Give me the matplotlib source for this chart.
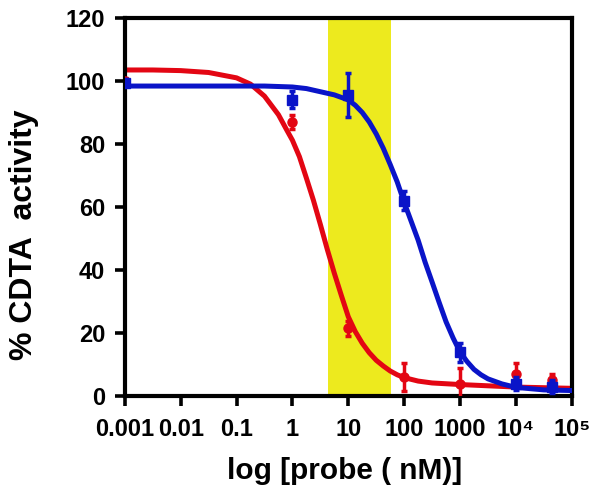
import matplotlib
matplotlib.use("Agg")
import matplotlib.pyplot as plt
import numpy as np

plt.rcParams["font.family"] = ["Liberation Sans", "DejaVu Sans"]
plt.rcParams["font.weight"] = "bold"

# measured points (concentration in nM, % activity, error)
conc = [0.001, 1, 10, 100, 1000, 10000, 45000]
red_y = [100, 87, 21.5, 6, 4, 7, 5]
red_err = [1, 2.2, 2.5, 4.5, 5, 3.5, 2]
blue_y = [99.5, 94, 95.5, 62, 14, 4, 3]
blue_err = [1, 2.7, 7, 3, 3, 2, 2]

# fitted curves (log10 concentration, % activity)
red_logx = [-3, -2.5, -2, -1.5, -1, -0.75, -0.5, -0.25, -0.1, 0, 0.125, 0.25,
            0.375, 0.5, 0.625, 0.75, 0.875, 1.0, 1.125, 1.25, 1.375, 1.5,
            1.625, 1.75, 1.875, 2.0, 2.25, 2.5, 3, 3.5, 4, 4.5, 5]
red_curve = [103.5, 103.5, 103.3, 102.7, 101.0, 99.0, 95.2, 89.3, 84.4, 81.2,
             76.0, 69.2, 62.2, 54.5, 46.5, 39.0, 32.0, 25.2, 20.5, 16.8, 13.8,
             11.4, 9.6, 8.0, 6.8, 5.9, 4.8, 4.2, 3.7, 3.3, 2.9, 2.7, 2.5]
blue_logx = [-3, -2, -1, -0.5, 0, 0.25, 0.5, 0.75, 1.0, 1.125, 1.25, 1.375,
             1.5, 1.625, 1.75, 1.875, 2.0, 2.125, 2.25, 2.375, 2.5, 2.625,
             2.75, 2.875, 3.0, 3.125, 3.25, 3.375, 3.5, 3.75, 4.0, 4.5, 5]
blue_curve = [98.4, 98.4, 98.4, 98.4, 98.1, 97.6, 96.6, 95.6, 94.0, 92.3,
              90.0, 87.0, 83.2, 78.7, 73.5, 68.0, 61.5, 55.5, 49.5, 42.5,
              36.2, 29.8, 23.6, 18.5, 14.0, 11.0, 8.5, 6.8, 5.5, 3.9, 2.8,
              2.0, 1.8]

highlight = (4.3, 57)

xticks = [1e-3, 1e-2, 1e-1, 1, 10, 100, 1000, 1e4, 1e5]
xticklabels = ["0.001", "0.01", "0.1", "1", "10", "100", "1000",
               "10\u2074", "10\u2075"]
yticks = [0, 20, 40, 60, 80, 100, 120]

red = "#E30613"
blue = "#0A14C8"

fig = plt.figure(figsize=(6.0, 4.99), dpi=100)
ax = fig.add_axes([0.208, 0.206, 0.745, 0.758])

ax.axvspan(*highlight, color="#EDEA1E", zorder=0, lw=0)

ax.plot(10.0 ** np.asarray(red_logx), red_curve, color=red, lw=3.6,
        solid_joinstyle="round", zorder=2)
ax.plot(10.0 ** np.asarray(blue_logx), blue_curve, color=blue, lw=3.6,
        solid_joinstyle="round", zorder=3)

ax.errorbar(conc, red_y, yerr=red_err, fmt="o", color=red, ms=6.5,
            elinewidth=2.5, capsize=2.5, capthick=2.5, zorder=4)
ax.errorbar(conc, blue_y, yerr=blue_err, fmt="s", color=blue, ms=7.5,
            elinewidth=2.5, capsize=2.5, capthick=2.5, zorder=5)

ax.set_xscale("log")
ax.set_xlim(1e-3, 1e5)
ax.set_ylim(0, 120)
ax.set_xticks(xticks)
ax.set_xticklabels(xticklabels)
ax.set_yticks(yticks)
ax.xaxis.set_minor_locator(matplotlib.ticker.LogLocator(base=10, subs=np.arange(2, 10)))
ax.xaxis.set_minor_formatter(matplotlib.ticker.NullFormatter())

for s in ax.spines.values():
    s.set_linewidth(3.0)
ax.tick_params(axis="both", which="major", direction="out", length=7, width=2.6,
               labelsize=17)
ax.tick_params(axis="x", which="major", pad=9)
ax.tick_params(axis="y", which="major", pad=7)
ax.tick_params(axis="x", which="minor", direction="out", length=4, width=2.2)
for lab in ax.get_xticklabels() + ax.get_yticklabels():
    lab.set_fontweight("bold")

fig.text(345 / 600, 1 - 471 / 499, "log [probe ( nM)]", fontsize=21.5,
         fontweight="bold", ha="center", va="center")
fig.text(24 / 600, 1 - 235 / 499, "% CDTA  activity", rotation=90,
         fontsize=23, fontweight="bold", ha="center", va="center")

fig.savefig("out.png", dpi=100)
